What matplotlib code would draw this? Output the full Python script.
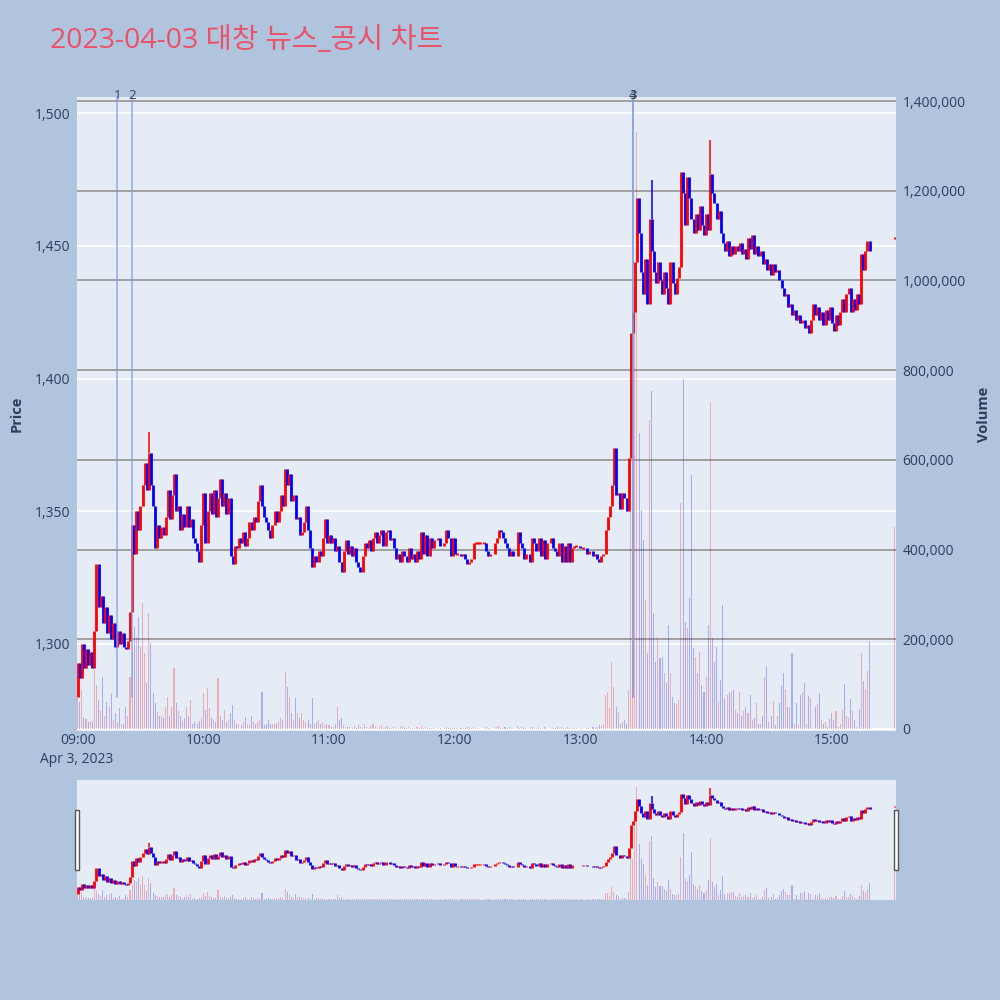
import matplotlib
matplotlib.use('Agg')
import matplotlib.pyplot as plt
from matplotlib.patches import Rectangle

plt.rcParams['font.family'] = ['Open Sans', 'Noto Sans CJK KR', 'DejaVu Sans']

TITLE = '2023-04-03 대창 뉴스_공시 차트'
N = None

# per-minute closes, 09:00 .. 15:18 (None = no trade that minute)
first_open = 1280
close_09 = [1293, 1287, 1300, 1291, 1298, 1292, 1297, 1291, 1305, 1330,
            1314, 1318, 1308, 1314, 1304, 1311, 1302, 1308, 1299, 1305,
            1300, 1304, 1299, 1298, 1301, 1312, 1345, 1334, 1350, 1343,
            1352, 1360, 1368, 1358, 1372, 1360, 1352, 1336, 1345, 1340,
            1344, 1341, 1348, 1358, 1347, 1356, 1364, 1350, 1352, 1343,
            1349, 1344, 1352, 1344, 1347, 1340, 1338, 1335, 1331, 1345]
close_10 = [1357, 1338, 1350, 1357, 1349, 1358, 1348, 1355, 1362, 1352,
            1357, 1349, 1355, 1333, 1330, 1337, 1336, 1340, 1338, 1342,
            1337, 1340, 1346, 1343, 1348, 1346, 1354, 1360, 1352, 1348,
            1346, 1343, 1340, 1345, 1350, 1346, 1350, 1356, 1352, 1366,
            1360, 1364, 1354, 1356, 1347, 1348, 1341, 1342, 1346, 1352,
            1343, 1336, 1329, 1333, 1331, 1335, 1333, 1340, 1347, 1338]
close_11 = [1341, 1338, 1340, 1335, 1337, 1331, 1327, 1335, 1339, 1334,
            1337, 1333, 1336, 1331, 1329, 1327, 1333, 1338, 1336, 1339,
            1335, 1340, 1342, 1338, 1341, 1343, 1337, 1342, 1343, 1339,
            1340, 1336, 1332, 1334, 1331, 1335, 1333, 1331, 1336, 1332,
            1334, 1331, 1335, 1332, 1342, 1334, 1341, 1333, 1340, 1336,
            1339, N, 1340, 1337, N, 1338, 1343, 1340, 1333, 1340]
close_12 = [1334, 1334, N, 1333, 1334, 1332, 1330, 1331, 1332, 1338,
            1338, 1338, 1338, N, 1338, 1335, 1333, 1334, N, 1338,
            1340, 1343, 1342, 1340, 1338, 1336, 1333, 1335, 1333, N,
            1342, 1338, 1336, 1332, 1334, N, 1331, 1340, 1338, 1335,
            1340, 1333, 1339, 1332, 1338, N, 1340, 1336, 1335, 1333,
            1338, 1331, 1337, 1331, 1338, 1331, 1336, 1337, 1337, N]
close_13 = [1336, 1336, N, 1334, 1335, N, 1333, 1334, 1332, 1331,
            1333, 1334, 1343, 1348, 1352, 1360, 1374, 1356, 1357, 1351,
            1357, 1355, 1350, 1370, 1417, 1425, 1444, 1468, 1455, 1440,
            1432, 1445, 1428, 1460, 1448, 1440, 1436, 1444, 1437, 1432,
            1440, 1434, 1428, 1444, 1436, 1432, 1438, 1442, 1478, 1470,
            1458, 1476, 1468, 1460, 1455, 1462, 1456, 1465, 1458, 1454]
close_14 = [1462, 1456, 1477, 1470, 1466, 1460, 1463, 1455, 1451, 1448,
            1452, 1446, 1450, 1447, 1450, 1448, 1451, 1447, 1449, 1445,
            1453, 1449, 1454, 1447, 1450, 1446, 1448, 1443, 1445, 1441,
            1443, 1439, 1443, 1440, 1441, 1437, 1434, 1431, 1432, 1427,
            1428, 1424, 1426, 1422, 1424, 1421, 1422, 1419, 1420, 1417,
            1422, 1428, 1424, 1427, 1422, 1425, 1420, 1426, 1422, 1427]
close_15 = [1421, 1418, 1424, 1420, 1425, 1430, 1425, 1432, 1434, 1425,
            1430, 1426, 1432, 1428, 1447, 1441, 1448, 1452, 1448]

# upper wicks that stick out of the bodies
wick_minutes = [34, 274, 302]
wick_highs = [1380, 1475, 1490]

# per-minute volume, thousand shares
vol_09 = [70, 60, 87, 27, 22, 15, 15, 18, 131, 98,
          65, 40, 116, 30, 60, 49, 80, 20, 36, 15,
          47, 10, 12, 49, 30, 116, 169, 227, 205, 250,
          183, 281, 169, 102, 258, 191, 80, 58, 38, 30,
          30, 25, 49, 71, 30, 49, 136, 58, 40, 30,
          18, 25, 49, 30, 65, 12, 15, 10, 18, 25]
vol_10 = [80, 42, 91, 47, 25, 20, 15, 114, 30, 20,
          42, 15, 20, 35, 53, 20, 12, 10, 8, 15,
          27, 12, 8, 30, 15, 10, 15, 20, 83, 8,
          12, 20, 10, 12, 14, 10, 15, 25, 20, 127,
          94, 71, 35, 20, 69, 35, 25, 35, 20, 15,
          20, 10, 69, 12, 15, 20, 12, 15, 8, 10]
vol_11 = [8, 5, 5, 10, 49, 20, 25, 8, 5, 5,
          4, 3, 6, 3, 8, 5, 3, 10, 4, 3,
          6, 12, 4, 3, 5, 9, 3, 4, 6, 3,
          2, 5, 3, 2, 4, 6, 2, 3, 5, 2,
          3, 2, 4, 2, 6, 3, 4, 2, 3, 2,
          2, 0, 3, 2, 0, 2, 4, 2, 3, 2]
vol_12 = [3, 2, 0, 2, 3, 2, 4, 2, 3, 5,
          2, 2, 3, 0, 2, 4, 3, 2, 0, 4,
          5, 6, 3, 2, 4, 3, 5, 2, 3, 0,
          6, 3, 4, 2, 3, 0, 4, 5, 2, 3,
          4, 3, 2, 4, 3, 0, 3, 2, 3, 4,
          3, 5, 2, 3, 4, 3, 2, 3, 2, 0]
vol_13 = [3, 2, 0, 3, 2, 0, 4, 3, 5, 8,
          6, 10, 76, 83, 47, 149, 94, 49, 38, 12,
          15, 20, 10, 87, 560, 480, 930, 1330, 660, 488,
          421, 288, 169, 689, 754, 258, 149, 205, 158, 160,
          125, 102, 232, 125, 71, 58, 56, 65, 504, 780,
          239, 225, 292, 566, 180, 160, 125, 172, 98, 83]
vol_14 = [116, 232, 729, 203, 149, 183, 60, 109, 276, 69,
          76, 80, 85, 87, 42, 36, 83, 30, 40, 49,
          35, 76, 20, 25, 58, 10, 10, 30, 116, 140,
          15, 30, 62, 8, 30, 58, 96, 125, 89, 49,
          50, 169, 10, 58, 8, 76, 83, 102, 10, 74,
          70, 3, 49, 55, 80, 20, 10, 15, 5, 25]
vol_15 = [35, 20, 40, 5, 10, 42, 100, 30, 25, 67,
          40, 20, 5, 45, 169, 107, 89, 129, 196]

# closing auction at 15:30
closing_minute = 390
closing_price = 1453
closing_volume = 450

event_labels = ['1', '2', '3', '4']
event_minutes = [19, 26, 265, 265]

tick_minutes = [0, 60, 120, 180, 240, 300, 360]
tick_labels = ['09:00', '10:00', '11:00', '12:00', '13:00', '14:00', '15:00']
price_ticks = [1300, 1350, 1400, 1450, 1500]
volume_ticks = [0, 200000, 400000, 600000, 800000, 1000000, 1200000, 1400000]

closes = close_09 + close_10 + close_11 + close_12 + close_13 + close_14 + close_15
volumes = vol_09 + vol_10 + vol_11 + vol_12 + vol_13 + vol_14 + vol_15

xs, opens, cls, vols = [], [], [], []
prev = first_open
for m, c in enumerate(closes):
    if c is None:
        continue
    xs.append(m)
    opens.append(prev)
    cls.append(c)
    vols.append(volumes[m] * 1000)
    prev = c
xs.append(closing_minute)
opens.append(closing_price)
cls.append(closing_price)
vols.append(closing_volume * 1000)

colors = ['#ff0000' if c >= o else '#0000ff' for o, c in zip(opens, cls)]
bar_colors = [(1, 0, 0, 0.27) if c >= o else (0, 0, 1, 0.27) for o, c in zip(opens, cls)]

lows, highs = [], []
for m, o, c in zip(xs, opens, cls):
    lo, hi = min(o, c), max(o, c)
    if hi - lo < 0.8:
        mid = (hi + lo) / 2
        lo, hi = mid - 0.4, mid + 0.4
    lows.append(lo)
    highs.append(hi)
wick_x, wick_lo, wick_hi, wick_c = [], [], [], []
for m, h in zip(wick_minutes, wick_highs):
    i = xs.index(m)
    wick_x.append(m)
    wick_lo.append(highs[i])
    wick_hi.append(h)
    wick_c.append(colors[i])

BG = '#b0c4de'
PLOT_BG = '#e5ecf6'
TXT = '#2a3f5f'
XLIM = (-0.3, 390.5)
PLIM = (1267.2, 1506.1)
VLIM = (-4500, 1409000)

fig = plt.figure(figsize=(10, 10), dpi=100)
fig.patch.set_facecolor(BG)

rect = [0.077, 0.269, 0.8187, 0.634]
ax_p = fig.add_axes(rect)
ax_p.set_facecolor(PLOT_BG)
ax_p.set_xlim(XLIM)
ax_p.set_ylim(PLIM)
ax_p.set_yticks(price_ticks)
ax_p.set_yticklabels([f'{p:,}' for p in price_ticks])
ax_p.set_xticks(tick_minutes)
ax_p.set_xticklabels(tick_labels)
ax_p.grid(axis='y', color='white', linewidth=1.1)
ax_p.grid(axis='x', visible=False)
ax_p.tick_params(length=0, labelsize=10, labelcolor=TXT, pad=5)
ax_p.tick_params(axis='x', pad=1.5)
ax_p.set_axisbelow(True)
for s in ax_p.spines.values():
    s.set_visible(False)
ax_p.set_ylabel('Price', fontsize=10.5, color=TXT, fontweight='bold', labelpad=8)

ax_v = ax_p.twinx()
ax_v.set_ylim(VLIM)
ax_v.set_yticks(volume_ticks)
ax_v.set_yticklabels([f'{v:,}' for v in volume_ticks])
ax_v.grid(axis='y', color='#9a9a9a', linewidth=1.3)
ax_v.set_axisbelow(True)
ax_v.tick_params(length=0, labelsize=10, labelcolor=TXT, pad=5)
for s in ax_v.spines.values():
    s.set_visible(False)
ax_v.set_ylabel('Volume', fontsize=10.5, color=TXT, fontweight='bold', labelpad=8)
ax_v.axhline(0, color='white', linewidth=1.6, zorder=1)
ax_v.bar(xs, vols, width=0.5, color=bar_colors, zorder=2)

ax_c = ax_p.twinx()
ax_c.set_ylim(PLIM)
ax_c.set_xlim(XLIM)
ax_c.axis('off')
ax_c.vlines(xs, lows, highs, colors=colors, linewidth=2.0)
ax_c.vlines(wick_x, wick_lo, wick_hi, colors=wick_c, linewidth=1.1)

for lbl, m in zip(event_labels, event_minutes):
    ax_c.plot([m, m], [1280, PLIM[1]], color='#7f9be6', alpha=0.75, linewidth=1.2,
              clip_on=False)
    ax_c.text(m, PLIM[1] + 0.5, lbl, ha='center', va='center', fontsize=9.5,
              color='#3b4252')

fig.text(0.077, 0.2405, 'Apr 3, 2023', ha='center', va='center', fontsize=10, color=TXT)

fig.text(0.05, 0.959, TITLE, ha='left', va='center', fontsize=20.5, color='#e9536a')

# range slider
ax_r = fig.add_axes([0.077, 0.1, 0.8187, 0.12])
ax_r.set_facecolor(PLOT_BG)
ax_r.set_xlim(XLIM)
ax_r.set_ylim(PLIM)
ax_r.set_xticks([])
ax_r.set_yticks([])
for s in ax_r.spines.values():
    s.set_visible(False)
ax_rv = ax_r.twinx()
ax_rv.set_ylim(VLIM)
ax_rv.axis('off')
ax_rv.bar(xs, vols, width=0.5, color=bar_colors)
ax_rc = ax_r.twinx()
ax_rc.set_ylim(PLIM)
ax_rc.axis('off')
ax_rc.vlines(xs, lows, highs, colors=colors, linewidth=2.0)
ax_rc.vlines(wick_x, wick_lo, wick_hi, colors=wick_c, linewidth=1.1)

for hx in [0.0745, 0.894]:
    fig.patches.append(Rectangle((hx, 0.13), 0.004, 0.06, transform=fig.transFigure,
                                 facecolor='white', edgecolor='#555555', linewidth=1))

fig.savefig('out.png', dpi=100, facecolor=BG)
